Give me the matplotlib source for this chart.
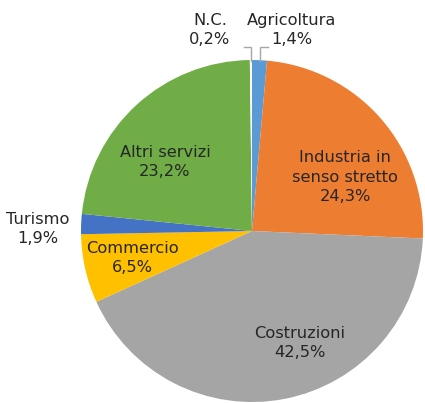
import matplotlib
matplotlib.use("Agg")
from matplotlib import pyplot as plt

# dati
settori = ["Agricoltura", "Industria in\nsenso stretto", "Costruzioni",
           "Commercio", "Turismo", "Altri servizi", "N.C."]
quote = [1.4, 24.3, 42.5, 6.5, 1.9, 23.2, 0.2]
colori = ["#5B9BD5", "#ED7D31", "#A5A5A5", "#FFC000", "#4472C4", "#70AD47", "#FFFFFF"]

W, H = 425, 403
cx, cy, R = 252, 231, 171

def px(x, y):
    # pixel immagine -> coordinate dati (raggio torta = 1)
    return (x - cx) / R, (cy - y) / R

fig = plt.figure(figsize=(W / 100, H / 100), dpi=100)
ax = fig.add_axes([0, 0, 1, 1])
ax.pie(quote, colors=colori, startangle=90, counterclock=False, radius=1,
       wedgeprops=dict(linewidth=0))
ax.set_xlim(-cx / R, (W - cx) / R)
ax.set_ylim((cy - H) / R, cy / R)
ax.set_aspect("auto")
ax.axis("off")

# posizioni etichette (pixel)
pos = [(292, 30), (345, 177), (300, 343), (132, 258), (38, 229), (165, 162), (210, 30)]
for nome, q, p in zip(settori, quote, pos):
    testo = nome + "\n" + ("%.1f" % q).replace(".", ",") + "%"
    x, y = px(*p)
    ax.text(x, y, testo, ha="center", va="center", fontsize=11.7,
            family="DejaVu Sans", color="#262626", linespacing=1.37)

# linee guida per le fette piccole
grigio = "#A6A6A6"
xs, ys = zip(px(244, 47), px(251, 47), px(251, 61))
ax.plot(xs, ys, color=grigio, lw=1)
xs, ys = zip(px(268, 47), px(260, 47), px(260, 61))
ax.plot(xs, ys, color=grigio, lw=1)

fig.savefig("out.png", dpi=100)
